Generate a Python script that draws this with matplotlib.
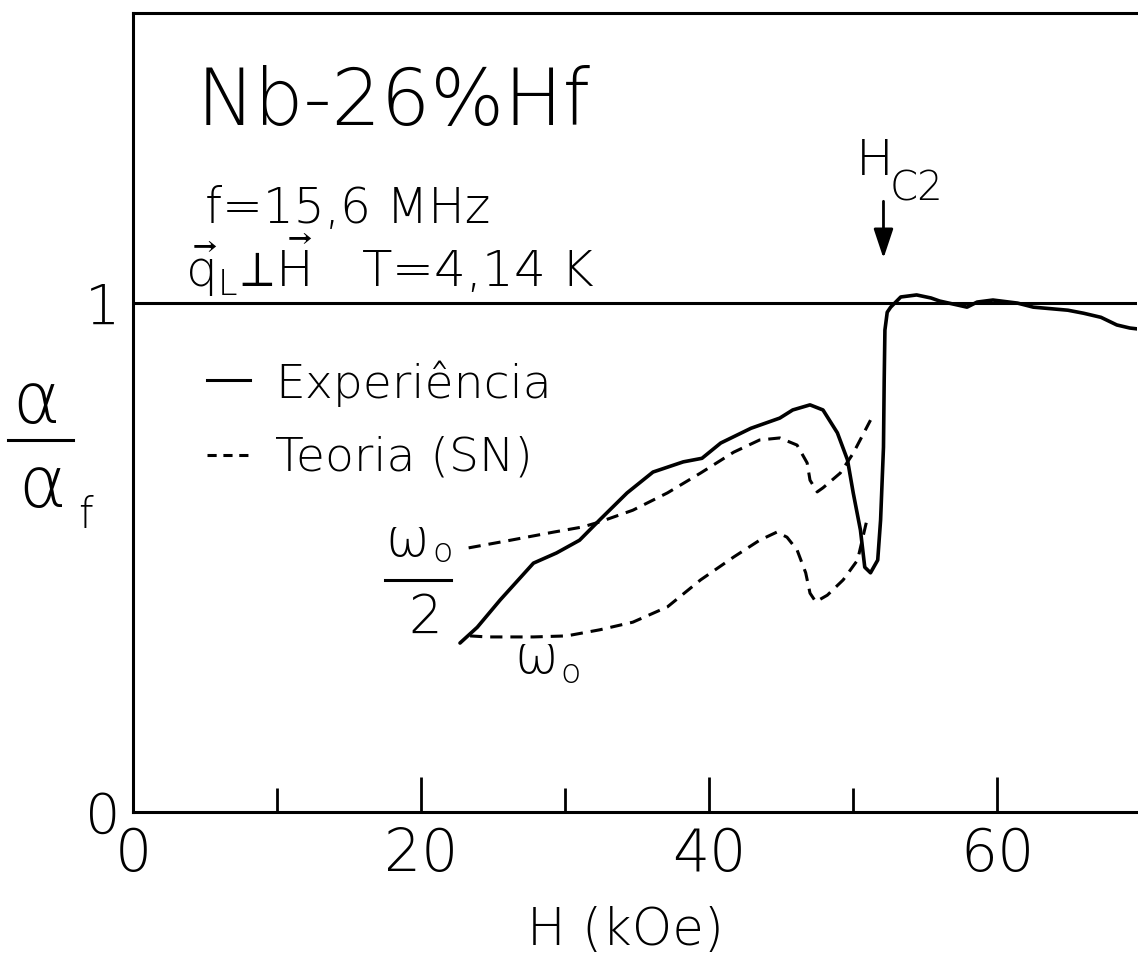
import matplotlib
matplotlib.use("Agg")
import matplotlib.pyplot as plt
from matplotlib.lines import Line2D

# Measured attenuation (solid curve): H in kOe, alpha/alpha_f
H_exp = [22.7, 23.9, 25.5, 27.8, 29.4, 31.0, 32.4, 34.3, 36.1, 38.2, 39.5, 40.8,
         42.9, 44.9, 45.8, 47.0, 47.9, 48.9, 49.6, 50.0, 50.5, 50.8, 51.2, 51.7,
         51.9, 52.1, 52.15, 52.2, 52.36, 52.6, 53.3, 54.4, 55.4, 56.0, 57.9, 58.6,
         59.7, 61.4, 62.5, 64.9, 66.0, 67.2, 68.3, 69.2, 69.8]
A_exp = [0.332, 0.363, 0.417, 0.489, 0.509, 0.534, 0.574, 0.627, 0.668, 0.688, 0.695, 0.725,
         0.754, 0.774, 0.790, 0.800, 0.790, 0.745, 0.692, 0.627, 0.554, 0.481, 0.470, 0.495,
         0.574, 0.717, 0.849, 0.947, 0.982, 0.992, 1.012, 1.016, 1.010, 1.004, 0.992, 1.002,
         1.006, 1.000, 0.992, 0.986, 0.980, 0.972, 0.957, 0.951, 0.949]

# SN theory, omega_o / 2 (upper dashed curve)
H_half = [23.3, 26.2, 29.2, 31.2, 32.4, 34.7, 37.1, 39.4, 41.7, 43.5, 44.9, 46.1,
          46.8, 47.0, 47.5, 47.9, 49.1, 50.0, 51.2]
A_half = [0.519, 0.534, 0.550, 0.560, 0.570, 0.593, 0.627, 0.666, 0.707, 0.731, 0.735, 0.721,
          0.686, 0.652, 0.629, 0.637, 0.666, 0.705, 0.770]

# SN theory, omega_o (lower dashed curve)
H_full = [23.4, 24.6, 27.8, 30.1, 32.4, 34.7, 37.1, 39.4, 41.7, 43.5, 44.7, 45.4,
          46.1, 46.7, 47.0, 47.4, 48.2, 49.3, 50.3, 51.0]
A_full = [0.346, 0.344, 0.344, 0.346, 0.358, 0.373, 0.403, 0.456, 0.501, 0.534, 0.550, 0.540,
          0.515, 0.470, 0.430, 0.413, 0.426, 0.456, 0.495, 0.580]

x_major = [0, 20, 40, 60]
x_minor = [10, 30, 50]
y_ticks = [0, 1]
y_ticklabels = ["0", "1"]
H_C2 = 52.1

W, HT = 1138, 960
plt.rcParams["font.family"] = ["DejaVu Sans"]
plt.rcParams["font.weight"] = "light"
plt.rcParams["axes.labelweight"] = "light"
plt.rcParams["mathtext.fontset"] = "dejavusans"

fig = plt.figure(figsize=(W / 100, HT / 100), dpi=100)
L, R, T, B = 133, 1137, 13, 812
ax = fig.add_axes([L / W, 1 - B / HT, (R - L) / W, (B - T) / HT])
ax.set_xlim(0, 69.7)
ax.set_ylim(0, 1.57)

for side in ("left", "bottom", "top"):
    ax.spines[side].set_linewidth(2.2)
ax.spines["right"].set_visible(False)

ax.set_xticks(x_major)
ax.set_xticks(x_minor, minor=True)
ax.set_xticklabels([str(v) for v in x_major])
ax.tick_params(axis="x", which="major", direction="in", length=25, width=2,
               labelsize=42, pad=10, top=False)
ax.tick_params(axis="x", which="minor", direction="in", length=17, width=2, top=False)
ax.set_yticks(y_ticks)
ax.set_yticklabels(y_ticklabels)
ax.tick_params(axis="y", length=0, labelsize=40, pad=9)

ax.set_xlabel("H (kOe)", fontsize=37, fontweight="light", va="baseline")
ax.xaxis.set_label_coords(0.49, -0.166)

# reference level alpha/alpha_f = 1
ax.axhline(1.0, color="black", lw=2.2)

ax.plot(H_exp, A_exp, color="black", lw=2.6, solid_capstyle="round")
ax.plot(H_half, A_half, color="black", lw=2.2, dashes=(4, 2.6))
ax.plot(H_full, A_full, color="black", lw=2.2, dashes=(4, 2.6))

# titles and conditions
ax.text(4.44, 1.350, "Nb-26%Hf", fontsize=56, va="baseline", ha="left")
ax.text(5.0, 1.157, "f=15,6 MHz", fontsize=35, va="baseline", ha="left")
ax.text(3.6, 1.031, r"$\vec{\mathrm{q}}_{\mathrm{L}}\!\perp\!\vec{\mathrm{H}}$   T=4,14 K",
        fontsize=36, va="baseline", ha="left")

# legend
ax.plot([5.14, 8.13], [0.849, 0.849], color="black", lw=2.2)
ax.text(9.86, 0.813, "Experiência", fontsize=34, va="baseline", ha="left")
ax.plot([5.14, 8.13], [0.701, 0.701], color="black", lw=2.2, dashes=(3, 2.2))
ax.text(9.86, 0.672, "Teoria (SN)", fontsize=34, va="baseline", ha="left")

# curve labels
ax.text(17.5, 0.503, "ω", fontsize=38, va="baseline", ha="left")
ax.text(20.8, 0.491, "o", fontsize=24, va="baseline", ha="left")
ax.plot([17.5, 22.1], [0.456, 0.456], color="black", lw=2.2)
ax.text(20.3, 0.352, "2", fontsize=38, va="baseline", ha="center")
ax.text(26.5, 0.273, "ω", fontsize=38, va="baseline", ha="left")
ax.text(29.7, 0.253, "o", fontsize=24, va="baseline", ha="left")

# upper critical field marker
ax.text(50.2, 1.251, "H", fontsize=36, va="baseline", ha="left")
ax.text(52.5, 1.202, "C2", fontsize=29, va="baseline", ha="left")
ax.annotate("", xy=(H_C2, 1.088), xytext=(H_C2, 1.200),
            arrowprops=dict(arrowstyle="-|>,head_length=0.6,head_width=0.2",
                            color="black", lw=2, mutation_scale=30, shrinkA=0, shrinkB=0))

# stacked ordinate label alpha / alpha_f
fig.text(36 / W, 1 - 403 / HT, "α", fontsize=52, ha="center", va="center")
fig.add_artist(Line2D([8 / W, 73 / W], [1 - 440 / HT, 1 - 440 / HT], color="black", lw=2.2))
fig.text(42 / W, 1 - 487 / HT, "α", fontsize=52, ha="center", va="center")
fig.text(85 / W, 1 - 515 / HT, "f", fontsize=30, ha="center", va="center")

fig.savefig("out.png", dpi=100)
